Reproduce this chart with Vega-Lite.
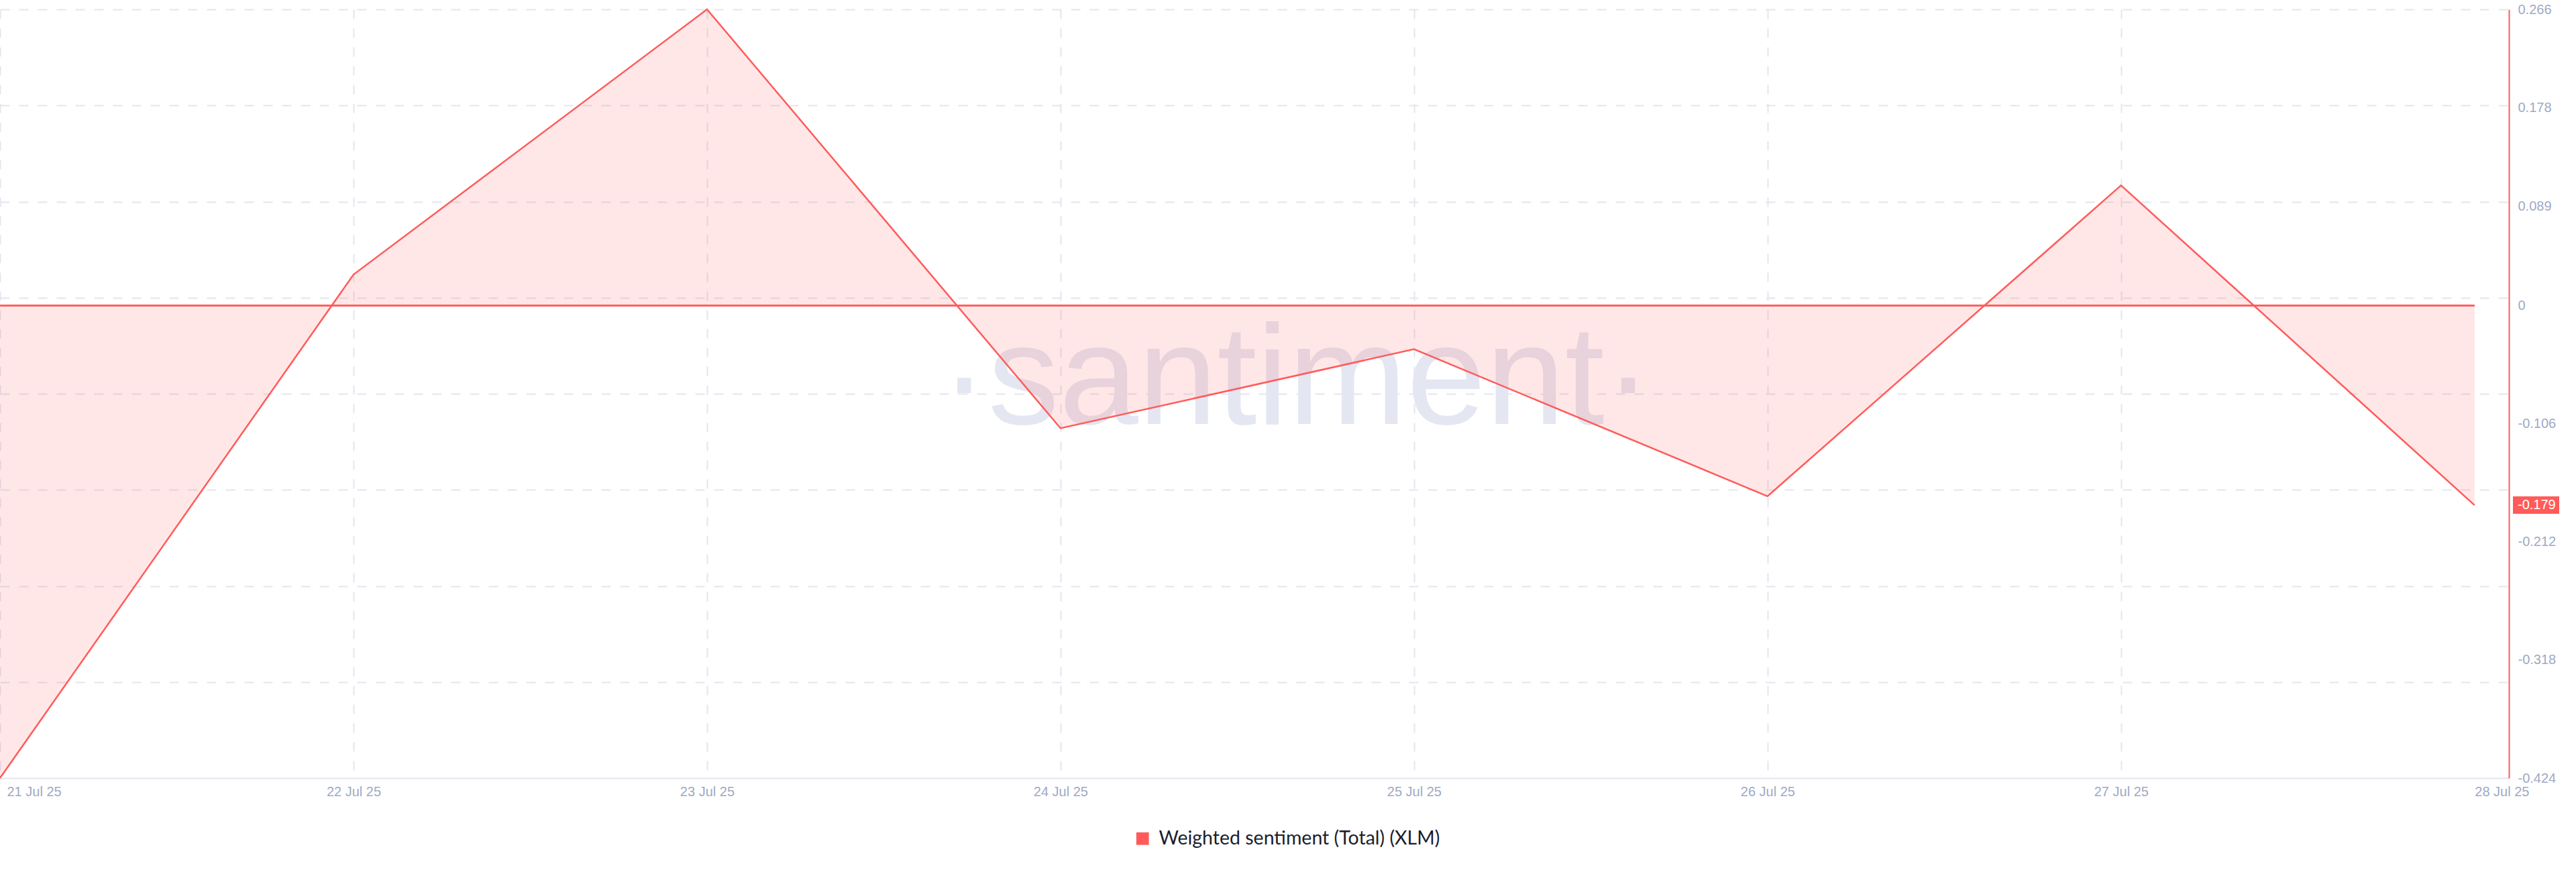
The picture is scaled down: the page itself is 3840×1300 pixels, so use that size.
{
  "$schema": "https://vega.github.io/schema/vega-lite/v6.json",
  "width": 3740,
  "height": 1146,
  "autosize": {"type": "none"},
  "padding": {"left": 0, "top": 14, "right": 100, "bottom": 140},
  "background": "white",
  "config": {"view": {"stroke": null}, "font": "Liberation Sans"},
  "datasets": {
    "sentiment": [
      {"date": "2025-07-21T00:00:00Z", "value": -0.424},
      {"date": "2025-07-22T00:00:00Z", "value": 0.028},
      {"date": "2025-07-23T00:00:00Z", "value": 0.266},
      {"date": "2025-07-24T00:00:00Z", "value": -0.110},
      {"date": "2025-07-25T00:00:00Z", "value": -0.039},
      {"date": "2025-07-26T00:00:00Z", "value": -0.171},
      {"date": "2025-07-27T00:00:00Z", "value": 0.108},
      {"date": "2025-07-28T00:00:00Z", "value": -0.179}
    ]
  },
  "data": {"name": "sentiment"},
  "resolve": {"axis": {"y": "independent"}},
  "layer": [
    {
      "data": {"values": [{"label": "·santiment·"}]},
      "mark": {"type": "text", "font": "Liberation Sans Narrow, Liberation Sans, sans-serif", "fontSize": 212, "color": "#e4e7f1", "align": "center", "baseline": "alphabetic"},
      "encoding": {
        "x": {"datum": {"year": 2025, "month": 7, "date": 24, "hours": 16, "utc": true}, "type": "temporal"},
        "y": {"datum": -0.106, "type": "quantitative", "axis": null},
        "text": {"field": "label", "type": "nominal"}
      }
    },
    {
      "mark": {"type": "area", "fill": "#ff5b5b", "fillOpacity": 0.15},
      "encoding": {
        "x": {
          "field": "date",
          "type": "temporal",
          "scale": {"type": "utc", "domain": [{"year": 2025, "month": 7, "date": 21, "utc": true}, {"year": 2025, "month": 7, "date": 28, "hours": 2, "minutes": 20, "utc": true}]},
          "axis": {
            "title": null,
            "tickCount": {"interval": "day", "step": 1},
            "labelExpr": "utcFormat(datum.value, '%-d %b %y')",
            "grid": true,
            "gridDash": [14, 14],
            "gridColor": "#e3e6ef",
            "gridWidth": 2,
            "gridOpacity": {"condition": {"test": "utcdate(datum.value) == 28", "value": 0}, "value": 1},
            "ticks": false,
            "domainColor": "#e3e6ef",
            "domainWidth": 2,
            "labelColor": "#9fa9c4",
            "labelFont": "Liberation Sans",
            "labelFontSize": 20,
            "labelPadding": 10,
            "labelFlush": false,
            "labelOverlap": false,
            "labelAlign": {"condition": {"test": "utcdate(datum.value) == 21 || utcdate(datum.value) == 28", "value": "left"}, "value": "center"},
            "labelOffset": {"condition": {"test": "utcdate(datum.value) == 21", "value": 10}, "value": 0}
          }
        },
        "y": {
          "field": "value",
          "type": "quantitative",
          "scale": {"domain": [-0.424, 0.266], "nice": false, "zero": false},
          "axis": {
            "orient": "left",
            "title": null,
            "values": [0.266, 0.17975, 0.0935, 0.00725, -0.079, -0.16525, -0.2515, -0.33775],
            "grid": true,
            "gridDash": [14, 14],
            "gridColor": "#e3e6ef",
            "gridWidth": 2,
            "labels": false,
            "ticks": false,
            "domain": false
          }
        },
        "y2": {"datum": 0}
      }
    },
    {
      "mark": {"type": "rule", "color": "#ff5b5b", "strokeWidth": 2},
      "encoding": {
        "x": {"datum": {"year": 2025, "month": 7, "date": 21, "utc": true}, "type": "temporal"},
        "x2": {"datum": {"year": 2025, "month": 7, "date": 28, "utc": true}},
        "y": {"datum": 0, "type": "quantitative", "axis": null}
      }
    },
    {
      "mark": {"type": "line", "strokeWidth": 2.5},
      "encoding": {
        "x": {"field": "date", "type": "temporal"},
        "y": {
          "field": "value",
          "type": "quantitative",
          "axis": {
            "orient": "right",
            "title": null,
            "values": [0.266, 0.178, 0.089, 0, -0.106, -0.212, -0.318, -0.424],
            "labelExpr": "'' + datum.value",
            "grid": false,
            "ticks": false,
            "domainColor": "#ff5b5b",
            "domainWidth": 2,
            "labelColor": "#9fa9c4",
            "labelFont": "Liberation Sans",
            "labelFontSize": 20,
            "labelPadding": 13,
            "labelFlush": false,
            "labelOverlap": false
          }
        },
        "color": {
          "datum": "Weighted sentiment (Total) (XLM)",
          "scale": {"range": ["#ff5b5b"]},
          "legend": {
            "title": null,
            "orient": "none",
            "legendX": 1689,
            "legendY": 1222,
            "padding": 0,
            "symbolType": "square",
            "symbolSize": 350,
            "symbolFillColor": "#ff5b5b",
            "symbolStrokeColor": "#ff5b5b",
            "symbolStrokeWidth": 0,
            "symbolOpacity": 1,
            "labelFont": "Lato",
            "labelFontSize": 28.5,
            "labelColor": "#1b1e2d",
            "labelOffset": 10,
            "labelLimit": 1000
          }
        }
      }
    },
    {
      "transform": [{"filter": "utcdate(datum.date) == 28"}],
      "mark": {"type": "rect", "color": "#ff5b5b", "xOffset": 6, "x2Offset": 75, "yOffset": -13, "y2Offset": 13},
      "encoding": {
        "x": {"datum": {"year": 2025, "month": 7, "date": 28, "hours": 2, "minutes": 20, "utc": true}, "type": "temporal"},
        "x2": {"datum": {"year": 2025, "month": 7, "date": 28, "hours": 2, "minutes": 20, "utc": true}},
        "y": {"field": "value", "type": "quantitative", "axis": null},
        "y2": {"field": "value"}
      }
    },
    {
      "transform": [{"filter": "utcdate(datum.date) == 28"}],
      "mark": {"type": "text", "color": "white", "font": "Liberation Sans", "fontSize": 20, "align": "left", "baseline": "middle", "dx": 13},
      "encoding": {
        "x": {"datum": {"year": 2025, "month": 7, "date": 28, "hours": 2, "minutes": 20, "utc": true}, "type": "temporal"},
        "y": {"field": "value", "type": "quantitative", "axis": null},
        "text": {"field": "value", "type": "nominal"}
      }
    }
  ]
}
